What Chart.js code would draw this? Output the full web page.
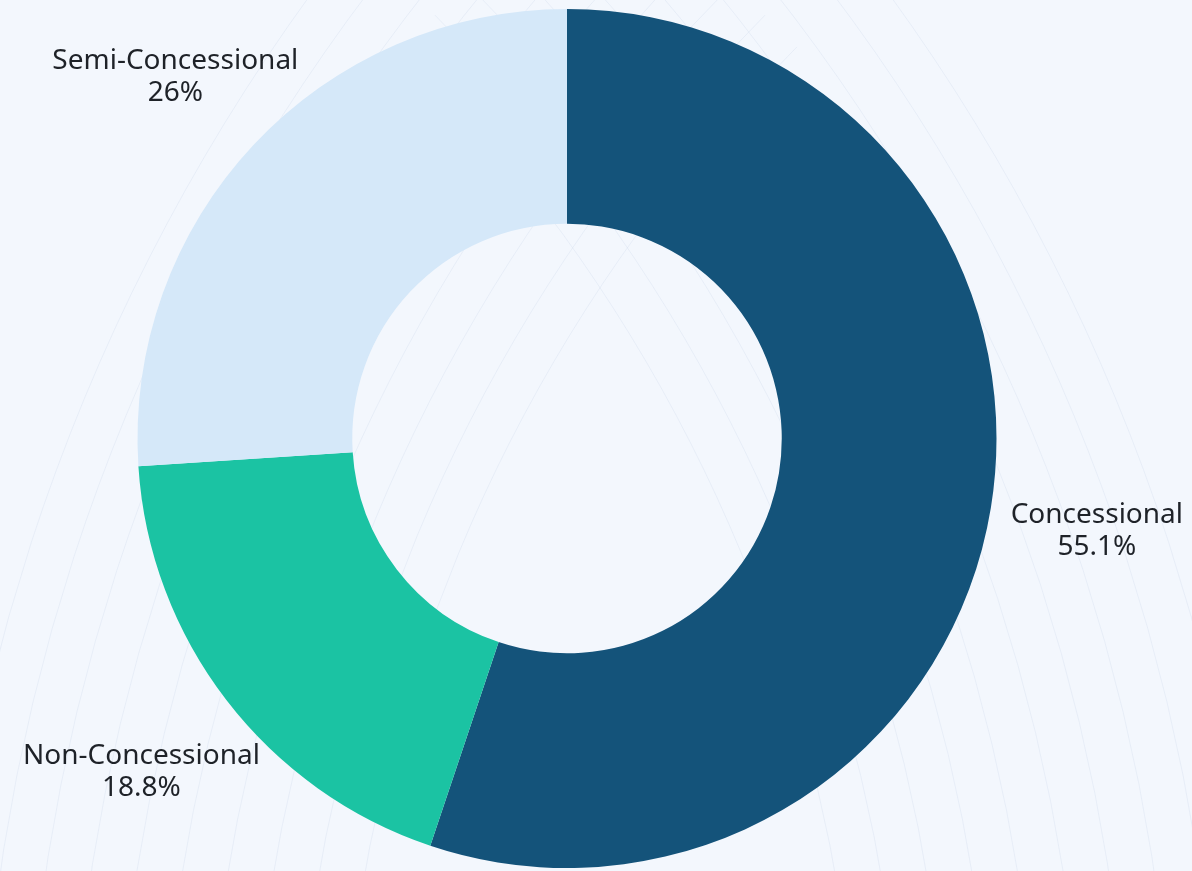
<!DOCTYPE html>
<html>
<head>
<meta charset="utf-8">
<style>
  html, body { margin: 0; padding: 0; background: #f3f7fd; }
  #wrap { width: 1192px; height: 871px; position: relative; }
</style>
<script src="https://cdn.jsdelivr.net/npm/chart.js@4"></script>
</head>
<body>
<div id="wrap"><canvas id="loanChart"></canvas></div>
<script>
var categories = ['Concessional', 'Non-Concessional', 'Semi-Concessional'];
var shares = [55.1, 18.8, 26];
var colors = ['#14537a', '#1bc3a3', '#d5e8f9'];

// faint sweeping lines behind the chart
var backdrop = {
    id: 'backdrop',
    beforeDraw: function (chart) {
        var c = chart.ctx;
        c.save();
        c.fillStyle = '#f3f7fd';
        c.fillRect(0, 0, chart.width, chart.height);
        c.strokeStyle = 'rgba(180, 196, 220, 0.18)';
        c.lineWidth = 1;
        for (var i = 0; i < 10; i++) {
            c.beginPath();
            c.arc(1900, 1150, 1560 + i * 45, Math.PI * 0.85, Math.PI * 1.25);
            c.stroke();
            c.beginPath();
            c.arc(-700, 1150, 1560 + i * 45, Math.PI * 1.75, Math.PI * 2.15);
            c.stroke();
        }
        c.restore();
    }
};

// category name and share outside each slice
var sliceLabels = {
    id: 'sliceLabels',
    afterDatasetsDraw: function (chart) {
        var c = chart.ctx;
        var meta = chart.getDatasetMeta(0);
        c.save();
        c.font = '28px "Noto Sans", sans-serif';
        c.fillStyle = '#1e2228';
        c.textAlign = 'center';
        c.textBaseline = 'middle';
        meta.data.forEach(function (arc, i) {
            var mid = (arc.startAngle + arc.endAngle) / 2;
            var d = arc.outerRadius * 1.25;
            var x = arc.x + Math.cos(mid) * d;
            var y = arc.y + Math.sin(mid) * d + 6;
            c.fillText(categories[i], x, y - 16);
            c.fillText(shares[i] + '%', x, y + 16);
        });
        c.restore();
    }
};

var ctx = document.getElementById('loanChart').getContext('2d');
var loanChart = new Chart(ctx, {
    type: 'doughnut',
    data: {
        labels: categories,
        datasets: [{
            data: shares,
            backgroundColor: colors,
            borderWidth: 0
        }]
    },
    options: {
        responsive: true,
        maintainAspectRatio: false,
        animation: false,
        cutout: '50%',
        layout: {
            padding: { top: 9, bottom: 3, left: 0, right: 58 }
        },
        plugins: {
            legend: { display: false },
            tooltip: { enabled: false }
        }
    },
    plugins: [backdrop, sliceLabels]
});
</script>
</body>
</html>
